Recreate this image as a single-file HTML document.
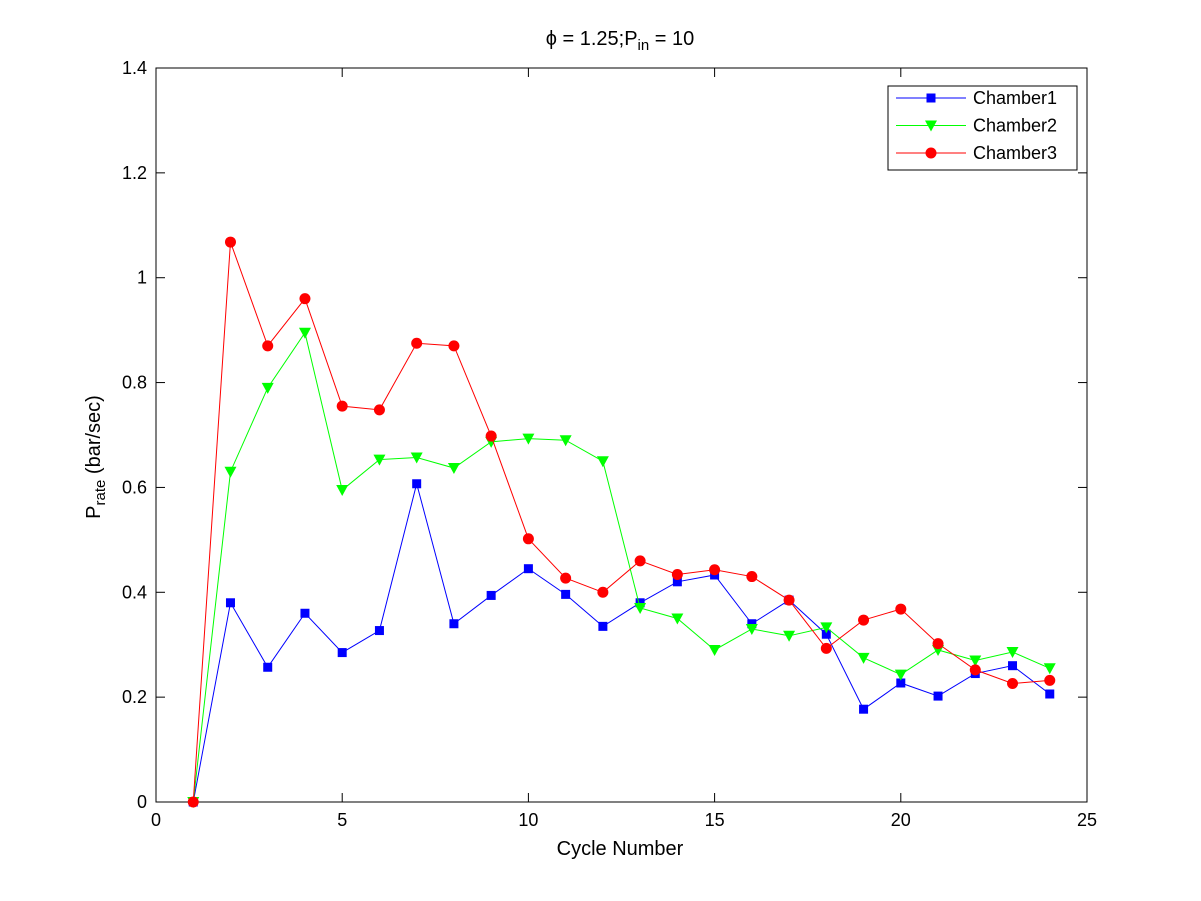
<!DOCTYPE html>
<html><head><meta charset="utf-8"><style>
body{margin:0;background:#fff;}
svg{display:block;font-family:"Liberation Sans",Arial,sans-serif;}
</style></head><body>
<svg id="chart" width="1201" height="901" viewBox="0 0 1201 901" xmlns="http://www.w3.org/2000/svg">
<rect width="1201" height="901" fill="#fff"/>
<g id="axes"></g>
<g id="series"></g>
<text x="620" y="45" font-size="20" text-anchor="middle">ϕ = 1.25;P<tspan font-size="15" dy="5">in</tspan><tspan dy="-5"> = 10</tspan></text>
<text x="620" y="855" font-size="20" text-anchor="middle">Cycle Number</text>
<text transform="translate(100,457) rotate(-90)" font-size="20" text-anchor="middle">P<tspan font-size="15" dy="5">rate</tspan><tspan dy="-5"> (bar/sec)</tspan></text>
<g id="legend"></g>
</svg>
<script>
const cycles=[1,2,3,4,5,6,7,8,9,10,11,12,13,14,15,16,17,18,19,20,21,22,23,24];
const chamber1=[0,0.38,0.257,0.36,0.285,0.327,0.607,0.34,0.394,0.445,0.396,0.335,0.38,0.42,0.433,0.34,0.385,0.32,0.177,0.227,0.202,0.245,0.26,0.206];
const chamber2=[0,0.63,0.79,0.895,0.595,0.653,0.657,0.637,0.687,0.693,0.69,0.65,0.37,0.35,0.29,0.33,0.317,0.333,0.275,0.243,0.29,0.27,0.286,0.255];
const chamber3=[0,1.068,0.87,0.96,0.755,0.748,0.875,0.87,0.698,0.502,0.427,0.4,0.46,0.434,0.443,0.43,0.385,0.293,0.347,0.368,0.302,0.252,0.226,0.232];
const xTicks=[0,5,10,15,20,25];
const yTicks=[0,0.2,0.4,0.6,0.8,1,1.2,1.4];
const seriesNames=["Chamber1","Chamber2","Chamber3"];

const NS="http://www.w3.org/2000/svg";
const L=156,R=1087,T=68,B=802;
const X=v=>L+(v-0)/25*(R-L);
const Y=v=>B-(v-0)/1.4*(B-T);
function mk(tag,attrs,parent){const e=document.createElementNS(NS,tag);for(const k in attrs)e.setAttribute(k,attrs[k]);parent.appendChild(e);return e;}
const ax=document.getElementById('axes');
const box=mk('rect',{x:L,y:T,width:R-L,height:B-T,fill:'none',stroke:'#000','stroke-width':1},ax);


xTicks.forEach(v=>{const x=X(v);
 mk('line',{x1:x,x2:x,y1:B,y2:B-9,stroke:'#000'},ax);
 mk('line',{x1:x,x2:x,y1:T,y2:T+9,stroke:'#000'},ax);
 const t=mk('text',{x:x,y:B+24,'font-size':18,'text-anchor':'middle'},ax);t.textContent=v;
 
 
});
yTicks.forEach(v=>{const y=Y(v);
 mk('line',{x1:L,x2:L+9,y1:y,y2:y,stroke:'#000'},ax);
 mk('line',{x1:R,x2:R-9,y1:y,y2:y,stroke:'#000'},ax);
 const t=mk('text',{x:L-9,y:y+6,'font-size':18,'text-anchor':'end'},ax);t.textContent=v;
 
 
});
const sg=document.getElementById('series');
const colors=['#0000ff','#00ff00','#ff0000'];
function marker(type,x,y,c,parent){
 let m;
 if(type==0)m=mk('rect',{x:x-4.5,y:y-4.5,width:9,height:9,fill:c},parent);
 else if(type==1)m=mk('polygon',{points:`${x-6},${y-5} ${x+6},${y-5} ${x},${y+6}`,fill:c},parent);
 else m=mk('circle',{cx:x,cy:y,r:5.5,fill:c},parent);
 return m;
}
[chamber1,chamber2,chamber3].forEach((d,i)=>{
 const g=mk('g',{},sg);
 
 
 mk('polyline',{points:d.map((v,j)=>X(cycles[j])+','+Y(v)).join(' '),fill:'none',stroke:colors[i],'stroke-width':1},g);
 d.forEach((v,j)=>{const m=marker(i,X(cycles[j]),Y(v),colors[i],g);
  
  });
});
const lg=document.getElementById('legend');
mk('rect',{x:888,y:86,width:189,height:84,fill:'#fff',stroke:'#000'},lg);
seriesNames.forEach((n,i)=>{const y=98+i*27.5;
 const g=mk('g',{},lg);
 
 
 mk('line',{x1:896,x2:966,y1:y,y2:y,stroke:colors[i]},g);
 marker(i,931,y,colors[i],g);
 const t=mk('text',{x:973,y:y+6,'font-size':18},g);t.textContent=n;
});
</script>
</body></html>
